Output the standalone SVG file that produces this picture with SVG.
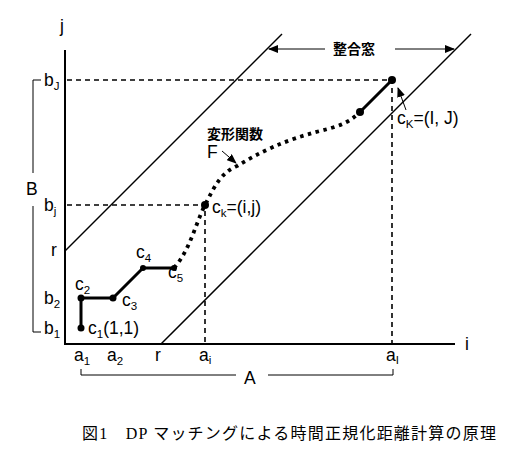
<svg xmlns="http://www.w3.org/2000/svg" width="516" height="458" viewBox="0 0 516 458">
<style>
.t{font-family:"Liberation Sans",Arial,"Noto Sans CJK JP",sans-serif;font-size:17.5px;fill:#000}
.s{font-size:11.5px}
.jp{font-family:"Noto Sans CJK JP",sans-serif;font-size:14px;font-weight:bold;fill:#000}
.cap{font-family:"Liberation Serif","Noto Sans CJK JP",serif;font-size:16px;fill:#000}
.ax{stroke:#000;stroke-width:2;fill:none}
.thin{stroke:#000;stroke-width:1.5;fill:none}
.br{stroke:#000;stroke-width:1;fill:none}
.dash{stroke:#000;stroke-width:1.6;stroke-dasharray:5 4;fill:none}
.dot{stroke:#000;stroke-width:3.8;stroke-dasharray:3.5 4.5;fill:none}
.path{stroke:#000;stroke-width:3;fill:none;stroke-linejoin:round}
.pt{fill:#000}
</style>
<defs>
<marker id="ah" markerWidth="10" markerHeight="8" refX="9" refY="4" orient="auto" markerUnits="userSpaceOnUse">
<path d="M0,0 L10,4 L0,8 Z" fill="#000"/>
</marker>
</defs>
<g id="axes">
<path class="ax" d="M65,50 V344 H455"/>
<text class="t" x="60" y="32">j</text>
<text class="t" x="465" y="350">i</text>
</g>
<g id="window-lines">
<path class="thin" d="M65,251 L282,34"/>
<path class="thin" d="M161,344 L471,34"/>
</g>
<g id="connectors">
<path class="dash" d="M67,80 H392 V343"/>
<path class="dash" d="M67,205 H205 V343"/>
<path class="path" d="M81,328 V298 H113 L143,268 H174"/>
<path class="path" d="M360,112 L392,80"/>
<path class="dot" d="M174,268 C190,250 195,225 205,205 C215,185 222,172 237,166 C260,152 285,140 320,131 C340,126 350,122 360,112"/>
<path class="br" d="M406,110 L398,88" marker-end="url(#ah)"/>
<path class="br" d="M222,151 L236,163" marker-end="url(#ah)"/>
<path class="br" d="M325,49 H269" marker-end="url(#ah)"/>
<path class="br" d="M395,49 H454" marker-end="url(#ah)"/>
</g>
<g id="points">
<circle class="pt" cx="81" cy="328" r="3.5"/>
<circle class="pt" cx="81" cy="298" r="3.5"/>
<circle class="pt" cx="113" cy="298" r="3.5"/>
<circle class="pt" cx="143" cy="268" r="3"/>
<circle class="pt" cx="174" cy="268" r="3"/>
<circle class="pt" cx="205" cy="205" r="4"/>
<circle class="pt" cx="360" cy="112" r="4"/>
<circle class="pt" cx="392" cy="80" r="4"/>
</g>
<g id="labels">
<text class="t" x="75" y="290">c<tspan class="s" dy="4">2</tspan></text>
<text class="t" x="122" y="306">c<tspan class="s" dy="4">3</tspan></text>
<text class="t" x="136" y="258">c<tspan class="s" dy="4">4</tspan></text>
<text class="t" x="168" y="278">c<tspan class="s" dy="4">5</tspan></text>
<text class="t" x="88" y="334">c<tspan class="s" dy="4">1</tspan><tspan dy="-4">(1,1)</tspan></text>
<text class="t" x="212" y="213">c<tspan class="s" dy="4">k</tspan><tspan dy="-4">=(i,j)</tspan></text>
<text class="t" x="397" y="124">c<tspan class="s" dy="4">K</tspan><tspan dy="-4">=(I, J)</tspan></text>
<text class="jp" x="207" y="139">変形関数</text>
<text class="t" x="207" y="158">F</text>
<text class="jp" x="333" y="54">整合窓</text>
</g>
<g id="y-labels">
<text class="t" x="44" y="86">b<tspan class="s" dy="4">J</tspan></text>
<text class="t" x="44" y="211">b<tspan class="s" dy="4">j</tspan></text>
<text class="t" x="51" y="256">r</text>
<text class="t" x="44" y="304">b<tspan class="s" dy="4">2</tspan></text>
<text class="t" x="44" y="334">b<tspan class="s" dy="4">1</tspan></text>
<path class="br" d="M41,80 H33 V173"/>
<path class="br" d="M33,206 V332 H41"/>
<text class="t" x="26" y="195">B</text>
</g>
<g id="x-labels">
<text class="t" x="74" y="361">a<tspan class="s" dy="4">1</tspan></text>
<text class="t" x="107" y="361">a<tspan class="s" dy="4">2</tspan></text>
<text class="t" x="155" y="361">r</text>
<text class="t" x="199" y="361">a<tspan class="s" dy="3">i</tspan></text>
<text class="t" x="386" y="361">a<tspan class="s" dy="3">I</tspan></text>
<path class="br" d="M81,369 V375 H236"/>
<path class="br" d="M268,375 H393 V369"/>
<text class="t" x="244" y="384">A</text>
</g>
<g id="caption">
<text class="cap" x="82" y="439" textLength="414" lengthAdjust="spacing">図1　DP マッチングによる時間正規化距離計算の原理</text>
</g>
</svg>
